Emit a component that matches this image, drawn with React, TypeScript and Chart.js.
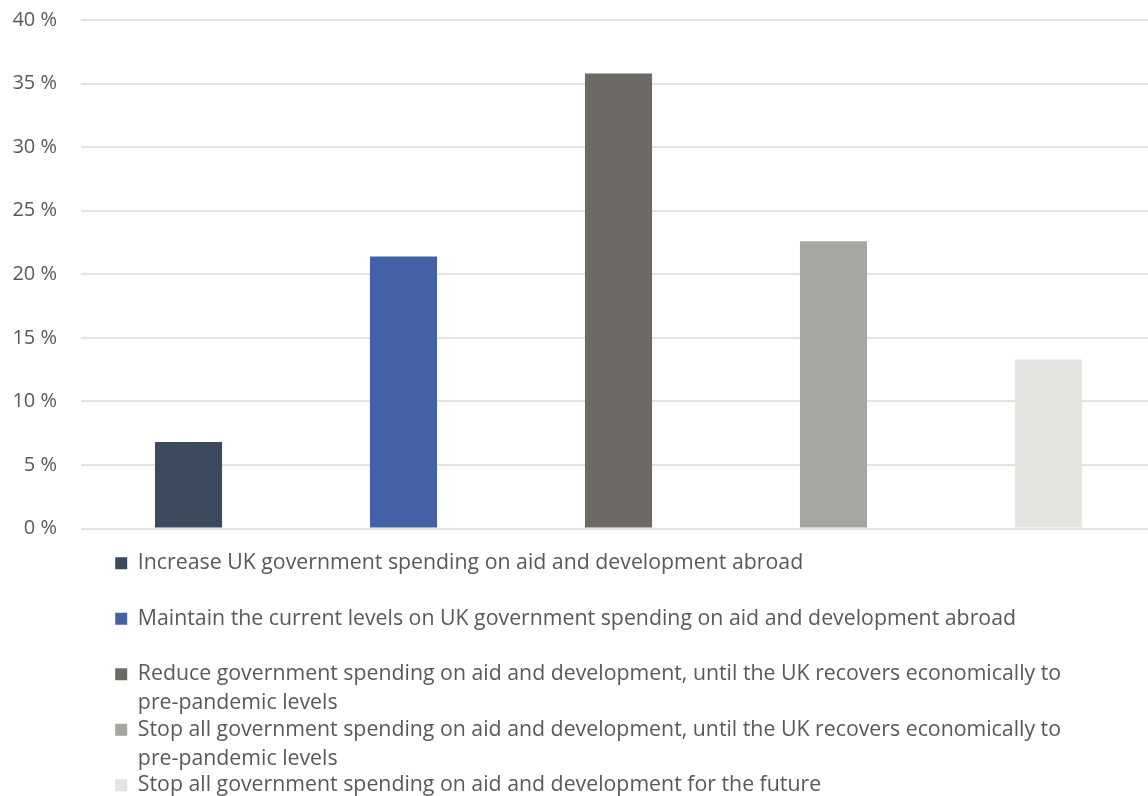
import React, { useEffect, useRef } from "react";
import { Chart, registerables } from "chart.js";

Chart.register(...registerables);

const categories: (string | string[])[] = [
  "Increase UK government spending on aid and development abroad",
  "Maintain the current levels on UK government spending on aid and development abroad",
  [
    "Reduce government spending on aid and development, until the UK recovers economically to",
    "pre-pandemic levels",
  ],
  [
    "Stop all government spending on aid and development, until the UK recovers economically to",
    "pre-pandemic levels",
  ],
  "Stop all government spending on aid and development for the future",
];

const shares: number[] = [6.8, 21.4, 35.8, 22.6, 13.3];

const barColors: string[] = ["#3b4a5c", "#4461a8", "#6d6a66", "#a6a5a2", "#e4e4e1"];

const yTicks: number[] = [0, 5, 10, 15, 20, 25, 30, 35, 40];

const FONT = "'Open Sans', sans-serif";
const TEXT = "#595959";

const legendNudge = {
  id: "legendNudge",
  afterLayout(chart: any) {
    const l = chart.legend;
    if (l) {
      l.top -= 10;
      l.bottom -= 10;
    }
  },
};

export default function App() {
  const ref = useRef<HTMLCanvasElement | null>(null);

  useEffect(() => {
    if (!ref.current) return;
    const chart = new Chart(ref.current, {
      type: "bar",
      data: {
        labels: categories.map((c) => (Array.isArray(c) ? c.join(" ") : c)),
        datasets: [
          {
            data: shares,
            backgroundColor: barColors,
            borderWidth: 0,
            categoryPercentage: 1,
            barPercentage: 0.312,
          },
        ],
      },
      plugins: [legendNudge],
      options: {
        responsive: false,
        animation: false,
        layout: { padding: { top: 20, left: 0, right: 0, bottom: 0 } },
        scales: {
          x: { display: false },
          y: {
            min: 0,
            max: 40,
            afterBuildTicks: (scale: any) => {
              scale.ticks = yTicks.map((v) => ({ value: v }));
            },
            afterFit: (scale: any) => {
              scale.width = 81;
              scale.paddingTop = 0;
              scale.paddingBottom = 0;
            },
            border: { display: false },
            grid: { color: "#e3e3e1", lineWidth: 2, drawTicks: false },
            ticks: {
              padding: 24,
              color: TEXT,
              font: { family: FONT, size: 20 },
              callback: (v: any) => `${v} %`,
            },
          },
        },
        plugins: {
          tooltip: { enabled: false },
          legend: {
            position: "bottom",
            align: "start",
            fullSize: false,
            labels: {
              padding: 34.2,
              boxWidth: 12,
              boxHeight: 12,
              color: TEXT,
              font: { family: FONT, size: 21.3, lineHeight: 1.36 },
              generateLabels: () =>
                categories.map((c, i) => ({
                  text: c as any,
                  fillStyle: barColors[i],
                  strokeStyle: barColors[i],
                  lineWidth: 0,
                  fontColor: TEXT,
                  hidden: false,
                  index: i,
                })),
            },
          },
        },
      },
    });
    return () => chart.destroy();
  }, []);

  return (
    <div
      style={{
        position: "fixed",
        left: 0,
        top: 0,
        width: 1148,
        height: 796,
        overflow: "hidden",
        background: "#ffffff",
      }}
    >
      <canvas ref={ref} width={1156} height={816} style={{ width: 1156, height: 816, display: "block" }} />
    </div>
  );
}
